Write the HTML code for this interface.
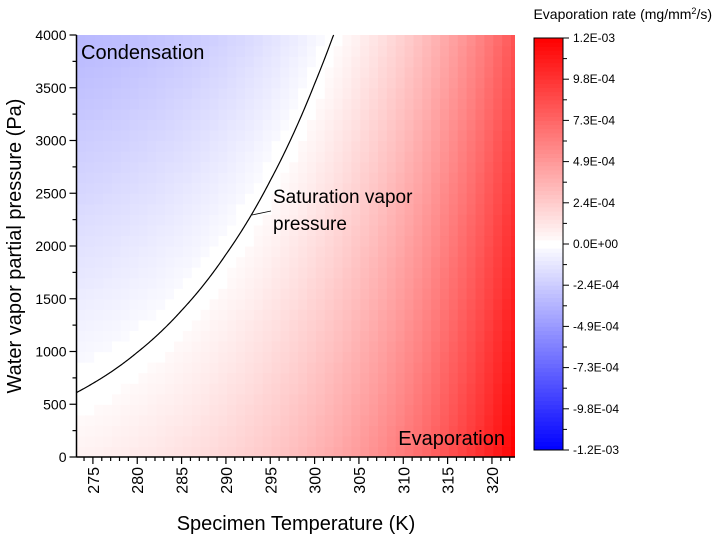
<!DOCTYPE html>
<html><head><meta charset="utf-8"><style>
html,body{margin:0;padding:0;background:#fff;width:717px;height:537px;overflow:hidden}
text{font-family:"Liberation Sans",Arial,sans-serif;fill:#000}
</style></head><body>
<svg id="chart" width="717" height="537" viewBox="0 0 717 537" xmlns="http://www.w3.org/2000/svg">
<g id="cells"></g>
<path id="curve" fill="none" stroke="#000" stroke-width="1.2"/>
<g id="axes"></g>
<g id="cbar"></g>
<text x="81" y="59" font-size="20">Condensation</text>
<text x="505" y="445" font-size="20" text-anchor="end">Evaporation</text>
<line x1="252" y1="215" x2="271" y2="211" stroke="#000" stroke-width="0.8"/>
<text x="273" y="203" font-size="19">Saturation vapor</text>
<text x="273" y="230" font-size="19">pressure</text>
<text x="296" y="530" font-size="20" text-anchor="middle">Specimen Temperature (K)</text>
<text transform="translate(21,246) rotate(-90)" font-size="20" text-anchor="middle">Water vapor partial pressure (Pa)</text>
<text x="712" y="19" font-size="14" text-anchor="end">Evaporation rate (mg/mm<tspan dy="-5" font-size="9">2</tspan><tspan dy="5">/s)</tspan></text>
</svg>
<script>
const psatT = [273.15, 275, 280, 285, 290, 295, 300, 305, 310, 315, 320, 323.15];
const psatP = [611, 698, 992, 1389, 1920, 2620, 3537, 4720, 6230, 8140, 10540, 12350];
const xTicks = [275, 280, 285, 290, 295, 300, 305, 310, 315, 320];
const yTicks = [0, 500, 1000, 1500, 2000, 2500, 3000, 3500, 4000];
const cbTicks = ["1.2E-03","9.8E-04","7.3E-04","4.9E-04","2.4E-04","0.0E+00","-2.4E-04","-4.9E-04","-7.3E-04","-9.8E-04","-1.2E-03"];
const cbMax = 1.2e-3;
const K = 1.0e-7;

const X0=76.5, X1=515, Y0=457, Y1=35, TMIN=273.15, TMAX=322.6, PMAX=4000;
const sx = t => X0 + (t-TMIN)/(TMAX-TMIN)*(X1-X0);
const sy = p => Y0 - p/PMAX*(Y0-Y1);
const NS="http://www.w3.org/2000/svg";
function mk(tag, parent, attrs){const e=document.createElementNS(NS,tag);for(const k in attrs)e.setAttribute(k,attrs[k]);parent.appendChild(e);return e;}
function psat(t){for(let i=0;i<psatT.length-1;i++){if(t<=psatT[i+1]){const f=(t-psatT[i])/(psatT[i+1]-psatT[i]);return psatP[i]*Math.pow(psatP[i+1]/psatP[i],f);}}return psatP[psatP.length-1];}
function color(v){let f=Math.max(-1,Math.min(1,v/cbMax));
 if(Math.abs(f)<0.02) return "rgb(255,255,255)";
 const c=Math.round(255*(1-Math.abs(f)));
 return f>0?`rgb(255,${c},${c})`:`rgb(${c},${c},255)`;}

const cells=document.getElementById('cells');
for(let t=TMIN;t<TMAX;t+=1){
 for(let p=0;p<PMAX;p+=100){
  const v=K*(psat(t+0.5)-(p+50));
  const r=mk('rect',cells,{x:sx(t).toFixed(2),y:sy(p+100).toFixed(2),width:(sx(t+1)-sx(t)+0.6).toFixed(2),height:(sy(p)-sy(p+100)+0.6).toFixed(2),fill:color(v)});
  
  
 }
}
mk('rect',cells,{x:X1,y:0,width:20,height:537,fill:'#fff'});
mk('rect',cells,{x:0,y:0,width:717,height:Y1,fill:'#fff'});

let d="";
for(let t=TMIN;t<=TMAX;t+=0.1){const p=psat(t);if(p>PMAX){d+=`L${sx(t).toFixed(2)},${sy(PMAX)}`;break;}d+=(d?"L":"M")+sx(t).toFixed(2)+","+sy(p).toFixed(2);}
document.getElementById('curve').setAttribute('d',d);

const ax=document.getElementById('axes');
let l=mk('line',ax,{x1:X0,y1:Y1,x2:X0,y2:Y0,stroke:'#000','stroke-width':1.5});


l=mk('line',ax,{x1:X0,y1:Y0,x2:X1,y2:Y0,stroke:'#000','stroke-width':1.5});


for(let t=274;t<=322;t++){const major=xTicks.includes(t);
 mk('line',ax,{x1:sx(t),y1:Y0,x2:sx(t),y2:Y0+(major?7:4),stroke:'#000','stroke-width':1.2});}
xTicks.forEach(t=>{const e=mk('text',ax,{transform:`translate(${sx(t)+6},${Y0+10}) rotate(-90)`,'font-size':16,'text-anchor':'end'});e.textContent=t;
 
 });
for(let p=0;p<=PMAX;p+=250){const major=p%500===0;
 mk('line',ax,{x1:X0,y1:sy(p),x2:X0-(major?7:4),y2:sy(p),stroke:'#000','stroke-width':1.2});}
yTicks.forEach(p=>{const e=mk('text',ax,{x:X0-10,y:sy(p)+5,'font-size':14,'text-anchor':'end'});e.textContent=p;
 
 });

const cb=document.getElementById('cbar');
const CX0=534,CX1=563,CY0=450,CY1=38;
for(let i=0;i<100;i++){const v=-cbMax+(i+0.5)*2*cbMax/100;
 const h=(CY0-CY1)/100;
 const r=mk('rect',cb,{x:CX0,y:(CY0-(i+1)*h).toFixed(2),width:CX1-CX0,height:(h+0.5).toFixed(2),fill:color(v)});
 
 }
mk('rect',cb,{x:CX0,y:CY1,width:CX1-CX0,height:CY0-CY1,fill:'none',stroke:'#000','stroke-width':1});
const n=cbTicks.length-1;
for(let i=0;i<=2*n;i++){const y=CY1+i*(CY0-CY1)/(2*n);
 mk('line',cb,{x1:CX1,y1:y,x2:CX1+(i%2===0?6:4),y2:y,stroke:'#000','stroke-width':1});}
cbTicks.forEach((s,i)=>{const y=CY1+i*(CY0-CY1)/n;
 const e=mk('text',cb,{x:CX1+10,y:y+4,'font-size':12});e.textContent=s;
 
 });
</script>
</body></html>
